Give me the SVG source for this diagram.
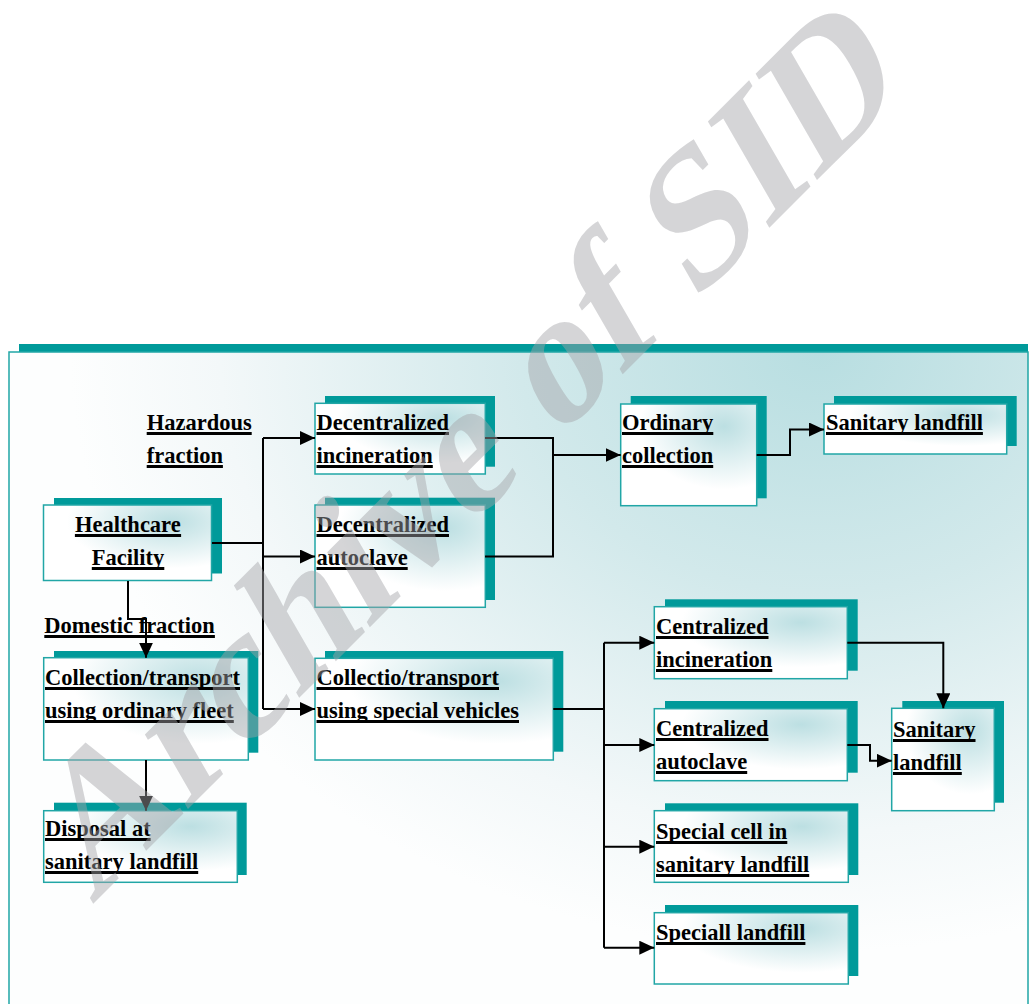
<svg xmlns="http://www.w3.org/2000/svg" width="1030" height="1004" viewBox="0 0 1030 1004">
  <style>
    .lbl { font-family: "Liberation Serif", "Times New Roman", serif; font-weight: bold; font-size: 22.5px; fill: #000; }
    .u { fill: #000; }
    .shadow { fill: #009a9a; }
    .box { fill: url(#nodeFill); stroke: #21a6a6; stroke-width: 1.5; }
    .wire { fill: none; stroke: #000; stroke-width: 2; }
    .arrow { marker-end: url(#head); }
    .wm { font-family: "Liberation Serif", "Times New Roman", serif; font-weight: bold; font-size: 181px; fill: #a3a4a8; fill-opacity: 0.46; }
  </style>
  <defs>
    <radialGradient id="panelFill" gradientUnits="userSpaceOnUse" cx="820" cy="352" r="750" gradientTransform="translate(820 352) scale(1 0.8) translate(-820 -352)">
      <stop offset="0" stop-color="#b8dee1"/>
      <stop offset="0.4" stop-color="#d2e9eb"/>
      <stop offset="0.8" stop-color="#f3f8f9"/>
      <stop offset="1" stop-color="#fdfefe"/>
    </radialGradient>
    <radialGradient id="nodeFill" cx="0.76" cy="0.22" r="0.62">
      <stop offset="0" stop-color="#bcdfe2"/>
      <stop offset="1" stop-color="#ffffff"/>
    </radialGradient>
    <marker id="head" markerUnits="userSpaceOnUse" markerWidth="15" markerHeight="14" refX="15" refY="7" orient="auto">
      <path d="M0,0 L15,7 L0,14 Z" fill="#000"/>
    </marker>
  </defs>

  <!-- outer panel -->
  <g id="panel">
    <rect x="19" y="344" width="1009" height="700" class="shadow"/>
    <rect x="9" y="352" width="1019" height="700" fill="url(#panelFill)" stroke="#21a6a6" stroke-width="1.5"/>
  </g>

  <!-- free labels -->
  <g id="hazardous-label">
    <text class="lbl" x="146.7" y="430">Hazardous</text>
    <rect class="u" x="146.7" y="432" width="105" height="3"/>
    <text class="lbl" x="146.7" y="463">fraction</text>
    <rect class="u" x="146.7" y="465" width="76.2" height="3"/>
  </g>
  <g id="domestic-label">
    <text class="lbl" x="44.3" y="633">Domestic fraction</text>
    <rect class="u" x="44.3" y="635" width="170.6" height="3"/>
  </g>

  <!-- nodes -->
  <g id="healthcare">
    <rect class="shadow" x="54" y="498" width="168" height="75.5"/>
    <rect class="box" x="43.5" y="505" width="168" height="75.5"/>
    <text class="lbl" x="74.9" y="532">Healthcare</text>
    <rect class="u" x="74.9" y="534" width="106.2" height="3"/>
    <text class="lbl" x="91.8" y="565">Facility</text>
    <rect class="u" x="91.8" y="567" width="72.5" height="3"/>
  </g>

  <g id="dec-incineration">
    <rect class="shadow" x="325" y="396" width="170" height="70.7"/>
    <rect class="box" x="315" y="403.3" width="170.3" height="70.7"/>
    <text class="lbl" x="316.5" y="430">Decentralized</text>
    <rect class="u" x="316.5" y="432" width="132.5" height="3"/>
    <text class="lbl" x="316.5" y="463">incineration</text>
    <rect class="u" x="316.5" y="465" width="116.3" height="3"/>
  </g>

  <g id="dec-autoclave">
    <rect class="shadow" x="325" y="497.7" width="170" height="102.3"/>
    <rect class="box" x="315" y="505" width="170.3" height="102.3"/>
    <text class="lbl" x="316.5" y="532">Decentralized</text>
    <rect class="u" x="316.5" y="534" width="132.5" height="3"/>
    <text class="lbl" x="316.5" y="565">autoclave</text>
    <rect class="u" x="316.5" y="567" width="91.2" height="3"/>
  </g>

  <g id="ordinary-collection">
    <rect class="shadow" x="630.7" y="396" width="136" height="102.3"/>
    <rect class="box" x="620.7" y="404" width="136" height="101.7"/>
    <text class="lbl" x="622" y="430">Ordinary</text>
    <rect class="u" x="622" y="432" width="91.3" height="3"/>
    <text class="lbl" x="622" y="463">collection</text>
    <rect class="u" x="622" y="465" width="91.2" height="3"/>
  </g>

  <g id="sanitary-landfill-top">
    <rect class="shadow" x="834" y="396" width="182.7" height="50"/>
    <rect class="box" x="824" y="404" width="182.7" height="50"/>
    <text class="lbl" x="826" y="430">Sanitary landfill</text>
    <rect class="u" x="826" y="432" width="156.9" height="3"/>
  </g>

  <g id="ordinary-fleet">
    <rect class="shadow" x="54" y="651" width="204.3" height="101.7"/>
    <rect class="box" x="43.7" y="657.7" width="204.6" height="102.3"/>
    <text class="lbl" x="45" y="685">Collection/transport</text>
    <rect class="u" x="45" y="687" width="195" height="3"/>
    <text class="lbl" x="45" y="718">using ordinary fleet</text>
    <rect class="u" x="45" y="720" width="188.8" height="3"/>
  </g>

  <g id="disposal">
    <rect class="shadow" x="54" y="802.7" width="192.7" height="72.3"/>
    <rect class="box" x="43.7" y="810.7" width="193.6" height="71.6"/>
    <text class="lbl" x="45" y="836">Disposal at</text>
    <rect class="u" x="45" y="838" width="105.6" height="3"/>
    <text class="lbl" x="45" y="869">sanitary landfill</text>
    <rect class="u" x="45" y="871" width="153.2" height="3"/>
  </g>

  <g id="special-vehicles">
    <rect class="shadow" x="325" y="651" width="238.3" height="100.7"/>
    <rect class="box" x="315" y="658.3" width="238.3" height="101.7"/>
    <text class="lbl" x="316.5" y="685">Collectio/transport</text>
    <rect class="u" x="316.5" y="687" width="182.5" height="3"/>
    <text class="lbl" x="316.5" y="718">using special vehicles</text>
    <rect class="u" x="316.5" y="720" width="202.5" height="3"/>
  </g>

  <g id="cen-incineration">
    <rect class="shadow" x="665" y="599.3" width="192.7" height="71.4"/>
    <rect class="box" x="654.3" y="606.7" width="193" height="72"/>
    <text class="lbl" x="656" y="634">Centralized</text>
    <rect class="u" x="656" y="636" width="112.5" height="3"/>
    <text class="lbl" x="656" y="667">incineration</text>
    <rect class="u" x="656" y="669" width="116.3" height="3"/>
  </g>

  <g id="cen-autoclave">
    <rect class="shadow" x="665" y="701" width="192.7" height="71.7"/>
    <rect class="box" x="654.3" y="708.7" width="193" height="72"/>
    <text class="lbl" x="656" y="736">Centralized</text>
    <rect class="u" x="656" y="738" width="112.5" height="3"/>
    <text class="lbl" x="656" y="769">autoclave</text>
    <rect class="u" x="656" y="771" width="91.2" height="3"/>
  </g>

  <g id="sanitary-landfill-right">
    <rect class="shadow" x="902.3" y="701" width="101.7" height="101.7"/>
    <rect class="box" x="891.7" y="708.3" width="102.6" height="102.4"/>
    <text class="lbl" x="893" y="737">Sanitary</text>
    <rect class="u" x="893" y="739" width="82.5" height="3"/>
    <text class="lbl" x="893" y="770">landfill</text>
    <rect class="u" x="893" y="772" width="68.8" height="3"/>
  </g>

  <g id="special-cell">
    <rect class="shadow" x="665" y="803.3" width="193.3" height="71.7"/>
    <rect class="box" x="654.3" y="810.7" width="194" height="71.6"/>
    <text class="lbl" x="656" y="839">Special cell in</text>
    <rect class="u" x="656" y="841" width="131.3" height="3"/>
    <text class="lbl" x="656" y="872">sanitary landfill</text>
    <rect class="u" x="656" y="874" width="153.2" height="3"/>
  </g>

  <g id="special-landfill">
    <rect class="shadow" x="665" y="905" width="193.3" height="71"/>
    <rect class="box" x="654.3" y="912.7" width="194" height="71.3"/>
    <text class="lbl" x="656" y="940">Speciall landfill</text>
    <rect class="u" x="656" y="942" width="149.4" height="3"/>
  </g>

  <!-- connectors -->
  <g id="connectors">
    <path class="wire" d="M212,543 H263"/>
    <path class="wire" d="M263,438 V709"/>
    <path class="wire arrow" d="M263,438 H315"/>
    <path class="wire arrow" d="M263,556.5 H315"/>
    <path class="wire arrow" d="M263,709 H315"/>
    <path class="wire" d="M485,438 H553 V556.5 H485"/>
    <path class="wire arrow" d="M553,455 H620.7"/>
    <path class="wire arrow" d="M756.7,455 H790 V429.5 H824"/>
    <path class="wire arrow" d="M128,581 V619 H146 V657.7"/>
    <path class="wire arrow" d="M146,760 V810.7"/>
    <path class="wire" d="M553.3,709 H604"/>
    <path class="wire" d="M604,642.7 V947.7"/>
    <path class="wire arrow" d="M604,642.7 H654.3"/>
    <path class="wire arrow" d="M604,745 H654.3"/>
    <path class="wire arrow" d="M604,846.7 H654.3"/>
    <path class="wire arrow" d="M604,947.7 H654.3"/>
    <path class="wire arrow" d="M847.3,642.7 H943.3 V708.3"/>
    <path class="wire arrow" d="M847.3,745 H870 V760.7 H891.7"/>
  </g>

  <!-- watermark, slanted by hand -->
  <text class="wm" transform="translate(92,905) rotate(-45) skewX(-15)">Archive of SID</text>
</svg>
